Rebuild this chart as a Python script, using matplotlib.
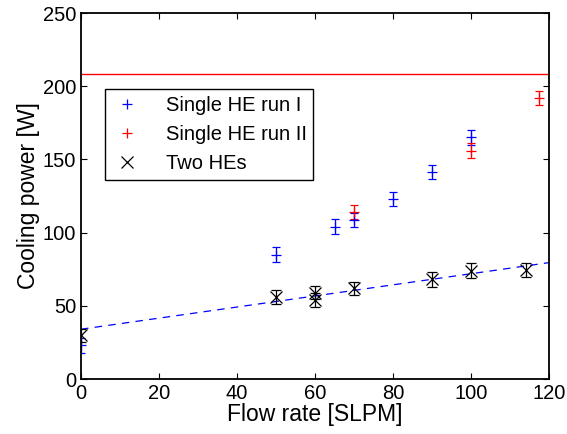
import numpy as np
import matplotlib
matplotlib.use("Agg")
import matplotlib.pyplot as plt

plt.rcParams['font.family'] = ['Liberation Sans', 'DejaVu Sans']

# Single HE run I
x_run1 = [0, 50, 65, 70, 80, 90, 100]
y_run1 = [23, 85, 104, 108.5, 123, 141.5, 165]
e_run1 = [5, 5, 5, 5, 5, 5, 5]

# Single HE run II
x_run2 = [70, 100, 117.5]
y_run2 = [114, 156, 192]
e_run2 = [5, 5, 5]

# Two HEs
x_two = [0, 50, 60, 60, 70, 90, 100, 114]
y_two = [30, 56, 59, 54, 62, 68, 74, 74.5]
e_two = [4.5, 4.5, 4.5, 4.5, 4.5, 5, 5, 5]

# linear fit of the two HE data and limit line
fit_x = [0, 120]
fit_y = [34, 79.5]
limit = 208.5

fig = plt.figure(figsize=(5.67, 4.34), dpi=100)
ax = fig.add_axes([0.1429, 0.1267, 0.8254, 0.8433])

ax.axhline(limit, color='red', lw=1)
ax.plot(fit_x, fit_y, color='blue', ls=(0, (6, 5)), lw=0.9)

ax.errorbar(x_run1, y_run1, yerr=e_run1, fmt='+', color='blue', ms=7,
            mew=0.9, elinewidth=0.9, capsize=3, capthick=0.9,
            label='Single HE run I')
ax.errorbar(x_run2, y_run2, yerr=e_run2, fmt='+', color='red', ms=7,
            mew=0.9, elinewidth=0.9, capsize=3, capthick=0.9,
            label='Single HE run II')
ax.errorbar(x_two, y_two, yerr=e_two, fmt='x', color='black', ms=8,
            mew=0.9, elinewidth=0.9, capsize=3.5, capthick=0.9,
            label='Two HEs')

ax.set_xlim(0, 120)
ax.set_ylim(0, 250)
ax.set_xticks(np.arange(0, 121, 20))
ax.set_yticks(np.arange(0, 251, 50))
ax.tick_params(direction='in', top=True, right=True, length=4, width=0.8,
               labelsize=14.5)
for s in ax.spines.values():
    s.set_linewidth(1.3)

ax.set_xlabel('Flow rate [SLPM]', fontsize=16.5, labelpad=0)
ax.set_ylabel('Cooling power [W]', fontsize=16.5, labelpad=2)

handles, labels = ax.get_legend_handles_labels()
handles = [h[0] for h in handles]
leg = ax.legend(handles, labels, loc='lower left',
                bbox_to_anchor=(0.051, 0.544, 0.444, 0.24), mode='expand',
                fontsize=14.5, fancybox=False, framealpha=1, edgecolor='black',
                borderaxespad=0, handlelength=1.5, handletextpad=1.2,
                labelspacing=0.5, borderpad=0.35)
leg.get_frame().set_linewidth(1.0)

fig.savefig('out.png', dpi=100)
